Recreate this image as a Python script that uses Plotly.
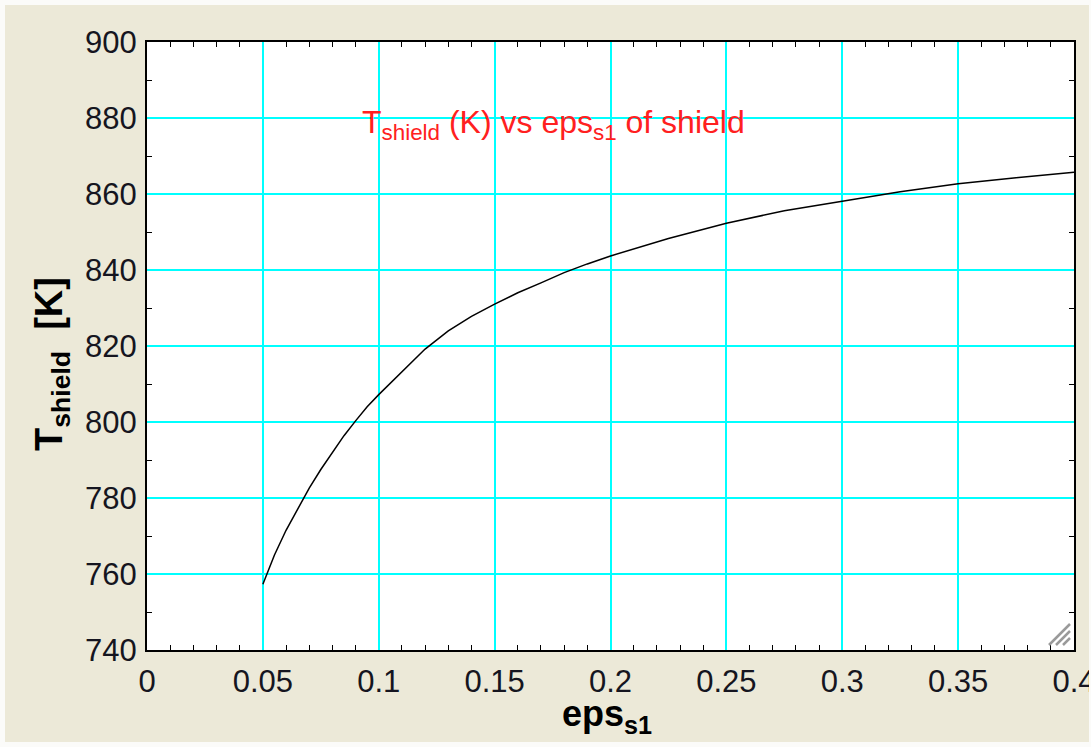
import plotly.graph_objects as go

# Shield emissivity and resulting shield temperature
eps_s1 = [0.05, 0.055, 0.06, 0.065, 0.07, 0.075, 0.08, 0.085, 0.09, 0.095,
          0.10, 0.11, 0.12, 0.13, 0.14, 0.15, 0.16, 0.17, 0.18, 0.19,
          0.20, 0.225, 0.25, 0.275, 0.30, 0.325, 0.35, 0.375, 0.40]
T_shield = [757.3, 765.0, 771.5, 777.2, 782.6, 787.5, 792.0, 796.4, 800.3, 804.0,
            807.2, 813.3, 819.2, 824.0, 827.8, 831.0, 834.0, 836.6, 839.3, 841.6,
            843.7, 848.3, 852.3, 855.6, 858.2, 860.6, 862.7, 864.3, 865.7]

x_ticks = [0, 0.05, 0.1, 0.15, 0.2, 0.25, 0.3, 0.35, 0.4]
x_tick_text = ["0", "0.05", "0.1", "0.15", "0.2", "0.25", "0.3", "0.35", "0.4"]
y_ticks = [740, 760, 780, 800, 820, 840, 860, 880, 900]

FACE = "#ECE9D8"
GRID = "#00FFFF"
FONT = "Liberation Sans, Arial, sans-serif"
W, H = 1091, 747
L, R, T, B = 147, 17, 42, 97

fig = go.Figure()
fig.add_trace(go.Scatter(x=eps_s1, y=T_shield, mode="lines",
                         line=dict(color="black", width=1.5),
                         showlegend=False, hoverinfo="x+y"))

axis_common = dict(
    showline=True, linecolor="black", linewidth=2, mirror="allticks",
    showgrid=True, gridcolor=GRID, gridwidth=2, zeroline=False,
    ticks="inside", ticklen=5, tickcolor=GRID, tickwidth=1,
    tickfont=dict(family=FONT, size=31, color="#151520"),
    automargin=False, fixedrange=True, ticklabeloverflow="allow",
)

fig.update_xaxes(range=[0, 0.4], tickvals=x_ticks, ticktext=x_tick_text,
                 minor=dict(dtick=0.01, ticks="inside", ticklen=5,
                            tickcolor="black", tickwidth=1, showgrid=False),
                 ticklabelstandoff=3, **axis_common)
fig.update_yaxes(range=[740, 900], tickvals=y_ticks,
                 minor=dict(dtick=10, ticks="inside", ticklen=5,
                            tickcolor="black", tickwidth=1, showgrid=False),
                 ticklabelstandoff=2, **axis_common)

# plot-area label
fig.add_annotation(x=0.1752, y=878.2, xref="x", yref="y",
                   text="T<sub>shield</sub> (K) vs eps<sub>s1</sub> of shield",
                   showarrow=False, xanchor="center", yanchor="middle",
                   font=dict(family=FONT, size=32, color="#FF2020"))


def px_x(p):
    return (p - L) / (W - L - R)


def px_y(p):
    return (H - B - p) / (H - T - B)


# axis titles
fig.add_annotation(x=px_x(607), y=px_y(716),
                   xref="paper", yref="paper", showarrow=False,
                   xanchor="center", yanchor="middle",
                   text="<b>eps<sub>s1</sub></b>",
                   font=dict(family=FONT, size=36, color="black"))
fig.add_annotation(x=px_x(52), y=px_y(364),
                   xref="paper", yref="paper", showarrow=False, textangle=-90,
                   xanchor="center", yanchor="middle",
                   text="<b>T<sub>shield</sub>  [K]</b>",
                   font=dict(family=FONT, size=38, color="black"))

# window resize grip in the lower-right corner
for k in range(3):
    off = 7 * k
    fig.add_shape(type="line", xref="paper", yref="paper",
                  x0=px_x(1049 + off), y0=px_y(645), x1=px_x(1070), y1=px_y(624 + off),
                  line=dict(color="#9A9A9A", width=2.5))

# thin light frame around the dialog face
frame = [(0, 0, W, 5), (0, 0, 5, H), (W - 2, 0, W, H), (0, H - 5, W, H)]
for x0, y0, x1, y1 in frame:
    fig.add_shape(type="rect", xref="paper", yref="paper", layer="above",
                  x0=px_x(x0), x1=px_x(x1), y0=px_y(y0), y1=px_y(y1),
                  fillcolor="#FBFBF9", line=dict(width=0))

fig.update_layout(
    width=W, height=H,
    margin=dict(l=L, r=R, t=T, b=B),
    paper_bgcolor=FACE, plot_bgcolor="white",
    font=dict(family=FONT),
)

fig.write_html("out.html")
